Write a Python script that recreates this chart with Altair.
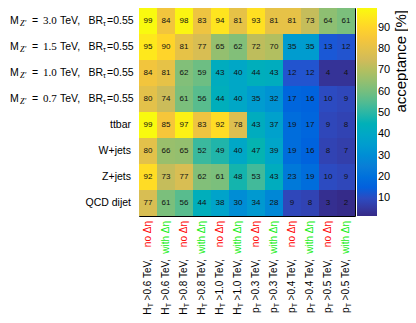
import altair as alt
import pandas as pd

# ---------------- data ----------------
row_keys = ["Zp3.0", "Zp1.5", "Zp1.0", "Zp0.7", "ttbar", "W+jets", "Z+jets", "QCD dijet"]
signal_masses = ["3.0", "1.5", "1.0", "0.7"]
br_tau = "0.55"
background_labels = ["ttbar", "W+jets", "Z+jets", "QCD dijet"]

col_var = ["H", "H", "H", "H", "H", "H", "p", "p", "p", "p", "p", "p"]
col_cut = [">0.6 TeV,", ">0.6 TeV,", ">0.8 TeV,", ">0.8 TeV,",
           ">1.0 TeV,", ">1.0 TeV,", ">0.3 TeV,", ">0.3 TeV,",
           ">0.4 TeV,", ">0.4 TeV,", ">0.5 TeV,", ">0.5 TeV,"]
col_deta = ["no Δη", "with Δη"] * 6

values = [
    [99, 84, 98, 83, 94, 81, 93, 81, 81, 73, 64, 61],
    [95, 90, 81, 77, 65, 62, 72, 70, 35, 35, 13, 12],
    [84, 81, 62, 59, 43, 40, 44, 43, 12, 12, 4, 4],
    [80, 74, 61, 56, 44, 40, 35, 32, 17, 16, 10, 9],
    [99, 85, 97, 83, 92, 78, 43, 37, 19, 17, 9, 8],
    [80, 66, 65, 52, 49, 40, 47, 39, 19, 16, 8, 7],
    [92, 73, 77, 62, 61, 48, 53, 43, 23, 19, 10, 9],
    [77, 61, 56, 44, 38, 30, 34, 28, 9, 8, 3, 2],
]

colorbar_ticks = [10, 20, 30, 40, 50, 60, 70, 80, 90]
z_min, z_max = 1.7, 99.3

# ROOT kBird palette
bird = ["#352a87", "#0f5cdd", "#1481d6", "#06a4ca", "#2eb7a4",
        "#87bf77", "#d1bb59", "#fec832", "#f9fb0e"]
bird_domain = [z_min + i * (z_max - z_min) / 8 for i in range(9)]

# ---------------- tables ----------------
col_keys = [f"c{i}" for i in range(len(col_cut))]
cells = pd.DataFrame([
    {"row": r, "col": c, "val": values[i][j]}
    for i, r in enumerate(row_keys) for j, c in enumerate(col_keys)
])
cols_df = pd.DataFrame({"col": col_keys, "var": col_var, "sub": ["T"] * len(col_keys),
                        "cut": col_cut, "deta": col_deta,
                        "flag": ["no" if d.startswith("no") else "with" for d in col_deta]})

n_sig = len(signal_masses)
n_bkg = len(background_labels)
rows_df = pd.DataFrame({
    "row": row_keys,
    "simple": [""] * n_sig + background_labels,
    "m": ["M"] * n_sig + [""] * n_bkg,
    "zp": ["Z′"] * n_sig + [""] * n_bkg,
    "eq": ["="] * n_sig + [""] * n_bkg,
    "mass": signal_masses + [""] * n_bkg,
    "tev": ["TeV,"] * n_sig + [""] * n_bkg,
    "br": ["BR"] * n_sig + [""] * n_bkg,
    "tau": ["τ"] * n_sig + [""] * n_bkg,
    "brv": ["=" + br_tau] * n_sig + [""] * n_bkg,
})

FONT = "Liberation Sans"
SERIF = "Liberation Serif"
W, H = 216, 208
FS = 10.5

X = alt.X("col:N", sort=col_keys, axis=None)
Y = alt.Y("row:N", sort=row_keys, axis=None)

heat = alt.Chart(cells).mark_rect().encode(
    x=X, y=Y,
    color=alt.Color("val:Q",
                    scale=alt.Scale(domain=bird_domain, range=bird),
                    legend=alt.Legend(orient="none", legendX=W + 2, legendY=0,
                                      direction="vertical", gradientLength=H,
                                      gradientThickness=20, title=None,
                                      values=colorbar_ticks, labelFontSize=11,
                                      labelFont=FONT, labelColor="black",
                                      labelOffset=1, gradientStrokeWidth=0,
                                      padding=0)),
)

cell_text = alt.Chart(cells).mark_text(fontSize=8, font=FONT, color="#111").encode(
    x=X, y=Y, text="val:Q")

col_colored = alt.Chart(cols_df).mark_text(
    angle=270, align="right", baseline="middle", fontSize=10, font=FONT).encode(
    x=X, y=alt.value(H + 5), text="deta:N",
    color=alt.condition("datum.flag == 'no'", alt.value("#ff0000"), alt.value("#11ee11")))

CUT_Y = H + 43
CUT_W = 44
col_cut_txt = alt.Chart(cols_df).mark_text(
    angle=270, align="right", baseline="middle", fontSize=10, font=FONT, color="black").encode(
    x=X, y=alt.value(CUT_Y), text="cut:N")
col_sub_txt = alt.Chart(cols_df).mark_text(
    angle=270, align="right", baseline="middle", fontSize=7, font=FONT, color="black", dy=3).encode(
    x=X, y=alt.value(CUT_Y + CUT_W), text="sub:N")
col_var_txt = alt.Chart(cols_df).mark_text(
    angle=270, align="right", baseline="middle", fontSize=10, font=FONT, color="black").encode(
    x=X, y=alt.value(CUT_Y + CUT_W + 4.5), text="var:N")


def row_piece(field, xpos, size=FS, font=FONT, dy=0, align="left", italic=False):
    kw = dict(align=align, baseline="middle", fontSize=size, font=font, color="black", dy=dy)
    if italic:
        kw["fontStyle"] = "italic"
    return alt.Chart(rows_df).mark_text(**kw).encode(
        y=Y, x=alt.value(xpos), text=f"{field}:N")


row_layers = [
    row_piece("simple", -8, align="right"),
    row_piece("m", -129),
    row_piece("zp", -119, size=8, font=SERIF, dy=3, italic=True),
    row_piece("eq", -107),
    row_piece("mass", -96, size=11, font=SERIF),
    row_piece("tev", -79),
    row_piece("br", -36, align="right"),
    row_piece("tau", -36, size=7, dy=3),
    row_piece("brv", -32),
]

title_df = pd.DataFrame({"t": ["acceptance [%]"]})
z_title = alt.Chart(title_df).mark_text(
    angle=270, align="right", baseline="middle", fontSize=15, font=FONT, color="black").encode(
    x=alt.value(W + 46), y=alt.value(2), text="t:N")

inner = alt.layer(heat, cell_text, col_colored, col_cut_txt, col_sub_txt, col_var_txt,
                  *row_layers, z_title)

tick_df = pd.DataFrame({"v": colorbar_ticks})
ticks = alt.Chart(tick_df).mark_rule(color="black", strokeWidth=1).encode(
    y=alt.Y("v:Q", scale=alt.Scale(domain=[z_min, z_max]), axis=None),
    x=alt.value(W + 17), x2=alt.value(W + 22))

chart = alt.layer(inner, ticks).resolve_scale(y="independent").properties(
    width=W, height=H,
    autosize=alt.AutoSizeParams(type="none"),
    padding={"left": 131, "top": 0, "right": 53, "bottom": 99},
).configure_view(stroke="black", strokeWidth=1)

chart.save("out.html", embed_options={"renderer": "svg", "actions": False})
